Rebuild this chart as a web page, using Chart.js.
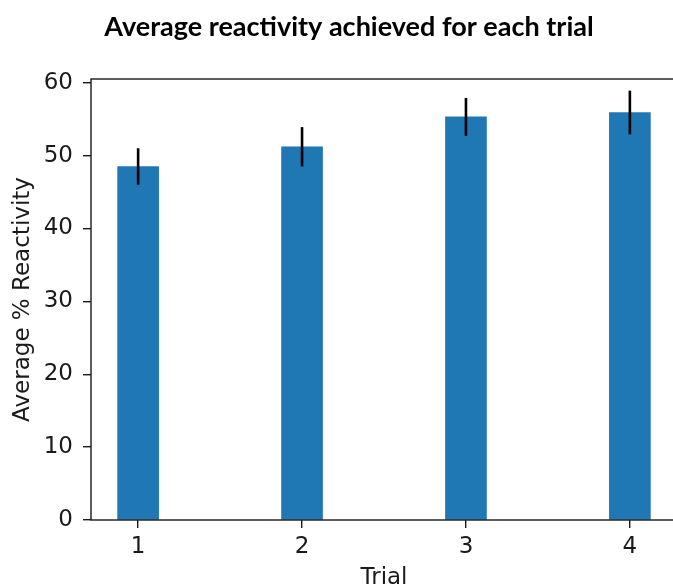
<!DOCTYPE html>
<html>
<head>
<meta charset="utf-8">
<script src="https://cdn.jsdelivr.net/npm/chart.js@4.4.0/dist/chart.umd.min.js"></script>
<style>
    html, body { margin: 0; padding: 0; background: #fff; overflow: hidden; }
    #wrap { width: 698px; height: 588px; }
</style>
</head>
<body>
<div id="wrap"><canvas id="barChart" width="698" height="588"></canvas></div>
<script>
// trial numbers, mean reactivity (%) and the spread shown as error bars
const trials = [1, 2, 3, 4];
const tickLabels = ['1', '2', '3', '4'];
const meanReactivity = [48.5, 51.2, 55.3, 55.9];
const reactivityErr = [2.5, 2.7, 2.6, 3.0];
const yTicks = [0, 10, 20, 30, 40, 50, 60];

const ink = '#1a1a1a';
const tickFont = { family: 'DejaVu Sans', size: 23 };

// axes frame drawn on all four sides, like a boxed plot
const framePlugin = {
    id: 'frame',
    afterDatasetsDraw(chart) {
        const { ctx, chartArea: a } = chart;
        ctx.save();
        ctx.strokeStyle = ink;
        ctx.lineWidth = 1.4;
        ctx.strokeRect(a.left, a.top, a.right - a.left, a.bottom - a.top);
        ctx.restore();
    }
};

// vertical error bars, no caps
const errorBarPlugin = {
    id: 'errorBars',
    afterDatasetsDraw(chart) {
        const { ctx, scales: { x, y } } = chart;
        ctx.save();
        ctx.strokeStyle = '#000';
        ctx.lineWidth = 2.6;
        meanReactivity.forEach((m, i) => {
            const px = x.getPixelForValue(trials[i]);
            ctx.beginPath();
            ctx.moveTo(px, y.getPixelForValue(m + reactivityErr[i]));
            ctx.lineTo(px, y.getPixelForValue(m - reactivityErr[i]));
            ctx.stroke();
        });
        ctx.restore();
    }
};

new Chart(document.getElementById('barChart'), {
    type: 'bar',
    data: {
        datasets: [{
            label: 'Average % Reactivity',
            data: trials.map((t, i) => ({ x: t, y: meanReactivity[i] })),
            backgroundColor: '#1f77b4',
            borderWidth: 0,
            barThickness: 41
        }]
    },
    options: {
        responsive: false,
        animation: false,
        layout: { padding: { left: 21, right: 21, top: 0, bottom: 0 } },
        plugins: {
            legend: { display: false },
            tooltip: { enabled: false },
            title: {
                display: true,
                text: 'Average reactivity achieved for each trial',
                color: '#000',
                font: { family: 'Lato', weight: 'bold', size: 27 },
                padding: { top: 11, bottom: 35.6 }
            }
        },
        scales: {
            x: {
                type: 'linear',
                offset: false,
                min: 0.7125,
                max: 4.2875,
                afterFit: s => { s.height = 68; },
                afterBuildTicks: s => { s.ticks = trials.map(v => ({ value: v })); },
                ticks: {
                    color: ink,
                    font: tickFont,
                    padding: 5,
                    autoSkip: false,
                    maxRotation: 0,
                    callback: (v) => tickLabels[trials.indexOf(v)]
                },
                grid: { offset: false, drawOnChartArea: false, drawTicks: true, tickLength: 8, color: ink, lineWidth: 1.4 },
                border: { display: false },
                title: {
                    display: true,
                    text: 'Trial',
                    color: ink,
                    font: tickFont,
                    padding: { top: 0, bottom: -4 }
                }
            },
            y: {
                min: 0,
                max: 60.5,
                afterFit: s => { s.width = 70; },
                afterBuildTicks: s => { s.ticks = yTicks.map(v => ({ value: v })); },
                ticks: { color: ink, font: tickFont, padding: 10 },
                grid: { drawOnChartArea: false, drawTicks: true, tickLength: 8, color: ink, lineWidth: 1.4 },
                border: { display: false },
                title: {
                    display: true,
                    text: 'Average % Reactivity',
                    color: ink,
                    font: tickFont,
                    padding: { top: -12, bottom: 0 }
                }
            }
        }
    },
    plugins: [framePlugin, errorBarPlugin]
});
</script>
</body>
</html>
